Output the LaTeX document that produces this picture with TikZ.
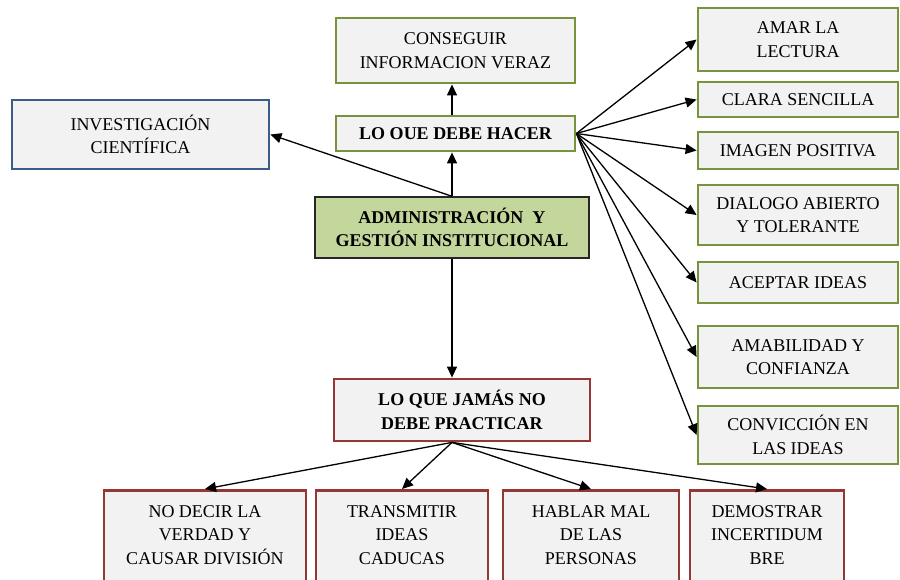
\documentclass[tikz,border=0pt]{standalone}
\usepackage{fontspec}
\setmainfont{Liberation Serif}
\usepackage{xcolor}
\usepackage{tikz}
\usetikzlibrary{arrows.meta}
\definecolor{verdeborde}{HTML}{77933C}
\definecolor{rojoborde}{HTML}{953735}
\definecolor{azulborde}{HTML}{385D8A}
\definecolor{fondocaja}{HTML}{F2F2F2}
\definecolor{verdecentro}{HTML}{C3D69B}

\begin{document}
\begin{tikzpicture}[x=1pt,y=-1pt,
  caja/.style={draw,fill=fondocaja,line width=2.8pt,align=center,inner sep=2pt,font=\fontsize{18}{23.5}\selectfont},
  cverde/.style={caja,draw=verdeborde},
  cderecha/.style={cverde,minimum width=200pt},
  crojo/.style={caja,draw=rojoborde},
  cinferior/.style={crojo,anchor=north,inner ysep=15pt,execute at end node={\rule[-30pt]{0pt}{30pt}}},
  flecha/.style={-{Triangle[length=11pt,width=10pt]},line width=1.3pt}]
  \useasboundingbox (0,0) rectangle (900,579);
  \clip (0,0) rectangle (900,579);
  % centro y rama superior
  \node[caja,fill=verdecentro,draw=black!85,line width=1.4pt,font=\bfseries\fontsize{18}{23.5}\selectfont,minimum width=274pt,minimum height=61pt] (adm) at (452,227.5) {ADMINISTRACIÓN~~Y\\GESTIÓN INSTITUCIONAL};
  \node[cverde,font=\bfseries\fontsize{18}{23.5}\selectfont,minimum width=239pt,minimum height=35pt] (debe) at (455.5,133.5) {LO OUE DEBE HACER};
  \node[cverde,minimum width=239pt,minimum height=65pt] (conseguir) at (455.5,50.5) {CONSEGUIR\\INFORMACION VERAZ};
  \node[caja,draw=azulborde,minimum width=257pt,minimum height=69pt] (invest) at (140.5,134.5) {INVESTIGACIÓN\\CIENTÍFICA};
  \node[crojo,font=\bfseries\fontsize{18}{23.5}\selectfont,minimum width=256pt,minimum height=62pt] (jamas) at (462,410) {LO QUE JAMÁS NO\\DEBE PRACTICAR};
  % lo que debe hacer
  \node[cderecha,minimum height=63pt] (amar) at (798,39.5) {AMAR LA\\LECTURA};
  \node[cderecha,minimum height=35pt] (clara) at (798,99.5) {CLARA SENCILLA};
  \node[cderecha,minimum height=37pt] (imagen) at (798,150.5) {IMAGEN POSITIVA};
  \node[cderecha,minimum height=60pt] (dialogo) at (798,215) {DIALOGO ABIERTO\\Y TOLERANTE};
  \node[cderecha,minimum height=41pt] (aceptar) at (798,282.5) {ACEPTAR IDEAS};
  \node[cderecha,minimum height=62pt] (amab) at (798,357) {AMABILIDAD Y\\CONFIANZA};
  \node[cderecha,minimum height=58pt] (conv) at (798,435) {CONVICCIÓN EN\\LAS IDEAS};
  % lo que jamas debe practicar
  \node[cinferior,minimum width=202pt] (nodecir) at (205,489) {NO DECIR LA\\VERDAD Y\\CAUSAR DIVISIÓN};
  \node[cinferior,minimum width=172pt] (transm) at (402,489) {TRANSMITIR\\IDEAS\\CADUCAS};
  \node[cinferior,minimum width=176pt] (hablar) at (591,489) {HABLAR MAL\\DE LAS\\PERSONAS};
  \node[cinferior,minimum width=154pt] (demos) at (767,489) {DEMOSTRAR\\INCERTIDUM\\BRE};
  \coordinate (salida) at (adm.south |- jamas.south);

  \draw[flecha] (adm.north) -- (adm.north |- debe.south);
  \draw[flecha] (adm.north |- debe.north) -- (adm.north |- conseguir.south);
  \draw[flecha] (adm.north) -- (invest.east);
  \draw[flecha] (adm.south) -- (adm.south |- jamas.north);
  \foreach \n in {amar,clara,imagen,dialogo,aceptar,amab,conv}
    \draw[flecha] (debe.east) -- (\n.west);
  \foreach \n in {nodecir,transm,hablar,demos}
    \draw[flecha] (salida) -- (\n.north);
\end{tikzpicture}
\end{document}
